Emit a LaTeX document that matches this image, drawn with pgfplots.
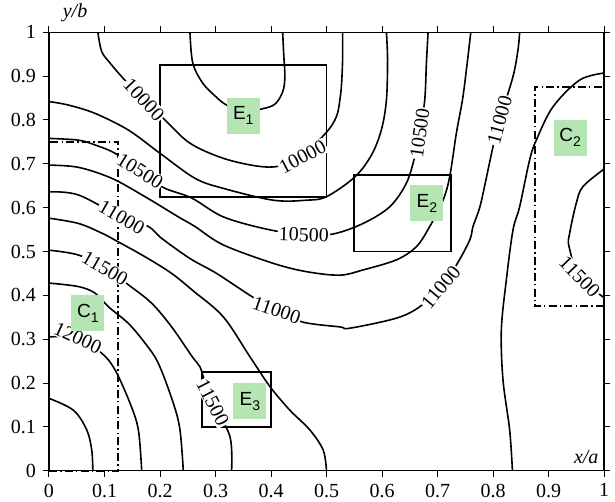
\documentclass[border=0pt]{standalone}
\usepackage{fontspec}
\setmainfont{Liberation Serif}
\newfontfamily\arialfont{Liberation Sans}
\usepackage{pgfplots}
\pgfplotsset{compat=1.18}
\definecolor{lblgreen}{RGB}{180,229,178}
\begin{document}
\begin{tikzpicture}[font=\fontsize{10}{12}\selectfont,
  clab/.style={fill=white, inner sep=0.5pt, font=\fontsize{10}{12}\selectfont},
  glab/.style={fill=lblgreen, inner sep=0pt, minimum width=16.5pt, minimum height=18pt, font=\arialfont\fontsize{9.5}{11}\selectfont}]
\useasboundingbox (-24.5pt,-15.65pt) rectangle (283pt,235.35pt);
\begin{axis}[
  at={(0,0)}, anchor=origin,
  width=277.5pt, height=219.2pt, scale only axis,
  xmin=0, xmax=1, ymin=0, ymax=1,
  xtick={0,0.1,0.2,0.3,0.4,0.5,0.6,0.7,0.8,0.9,1},
  ytick={0,0.1,0.2,0.3,0.4,0.5,0.6,0.7,0.8,0.9,1},
  tick align=outside, major tick length=3pt,
  xtick pos=both, ytick pos=both, xticklabel pos=lower, yticklabel pos=left,
  tick style={line width=0.5pt, black},
  axis line style={line width=0.6pt},
  /pgf/number format/assume math mode=true,
  clip=false, axis on top,
  every axis plot/.append style={line width=0.8pt, black},
]
% 9500
\addplot[smooth, tension=0.55] coordinates {(0.254,1.0)(0.259,0.930)(0.277,0.884)(0.299,0.855)(0.320,0.834)(0.353,0.820)(0.383,0.825)(0.407,0.836)(0.421,0.864)(0.425,0.898)(0.423,0.948)(0.421,1.0)};
% 10000
\addplot[smooth, tension=0.55] coordinates {(0.088,1.0)(0.095,0.956)(0.110,0.930)(0.128,0.903)(0.146,0.879)(0.209,0.800)(0.254,0.747)(0.313,0.713)(0.374,0.695)(0.416,0.695)(0.457,0.720)(0.500,0.772)(0.518,0.808)(0.524,0.845)(0.527,0.880)(0.529,0.937)(0.529,1.0)};
% 10250
\addplot[smooth, tension=0.55] coordinates {(0,0.842)(0.035,0.834)(0.083,0.815)(0.143,0.777)(0.200,0.724)(0.263,0.667)(0.314,0.644)(0.404,0.617)(0.464,0.617)(0.500,0.625)(0.551,0.670)(0.581,0.720)(0.599,0.778)(0.608,0.846)(0.610,0.937)(0.608,1.0)};
% 10500
\addplot[smooth, tension=0.55] coordinates {(0,0.758)(0.053,0.754)(0.083,0.743)(0.119,0.724)(0.164,0.684)(0.206,0.646)(0.257,0.622)(0.314,0.579)(0.392,0.551)(0.459,0.538)(0.512,0.540)(0.566,0.564)(0.614,0.602)(0.644,0.656)(0.659,0.716)(0.668,0.770)(0.677,0.846)(0.680,0.929)(0.683,1.0)};
% 10750
\addplot[smooth, tension=0.55] coordinates {(0,0.697)(0.053,0.692)(0.113,0.667)(0.173,0.625)(0.233,0.579)(0.263,0.557)(0.314,0.515)(0.404,0.473)(0.464,0.454)(0.524,0.446)(0.566,0.458)(0.626,0.481)(0.662,0.511)(0.686,0.557)(0.710,0.617)(0.722,0.671)(0.734,0.770)(0.745,0.846)(0.752,0.914)(0.760,1.0)};
% 11000
\addplot[smooth, tension=0.55] coordinates {(0,0.636)(0.053,0.629)(0.131,0.578)(0.179,0.557)(0.203,0.530)(0.254,0.484)(0.302,0.450)(0.367,0.396)(0.410,0.366)(0.457,0.339)(0.524,0.328)(0.542,0.325)(0.626,0.348)(0.668,0.374)(0.706,0.419)(0.734,0.469)(0.758,0.526)(0.764,0.557)(0.776,0.600)(0.785,0.650)(0.800,0.739)(0.812,0.800)(0.836,0.899)(0.845,0.960)(0.848,1.0)};
% 11250 left
\addplot[smooth, tension=0.55] coordinates {(0,0.576)(0.053,0.564)(0.095,0.542)(0.119,0.526)(0.173,0.488)(0.221,0.450)(0.260,0.410)(0.314,0.351)(0.362,0.260)(0.398,0.192)(0.434,0.138)(0.470,0.093)(0.494,0.047)(0.500,0.0)};
% 11500 left
\addplot[smooth, tension=0.55] coordinates {(0,0.503)(0.053,0.492)(0.101,0.462)(0.143,0.424)(0.185,0.382)(0.221,0.328)(0.257,0.262)(0.272,0.237)(0.278,0.214)(0.295,0.155)(0.326,0.078)(0.329,0.0)};
% 11750
\addplot[smooth, tension=0.55] coordinates {(0,0.428)(0.053,0.420)(0.083,0.405)(0.107,0.374)(0.143,0.336)(0.173,0.291)(0.197,0.245)(0.224,0.154)(0.236,0.093)(0.242,0.0)};
% 12000
\addplot[smooth, tension=0.55] coordinates {(0,0.305)(0.052,0.303)(0.095,0.268)(0.119,0.230)(0.146,0.154)(0.161,0.093)(0.167,0.0)};
% 12250
\addplot[smooth, tension=0.55] coordinates {(0,0.165)(0.044,0.138)(0.068,0.093)(0.077,0.047)(0.079,0.0)};
% 11250 right
\addplot[smooth, tension=0.55] coordinates {(0.835,0.0)(0.830,0.093)(0.818,0.207)(0.815,0.321)(0.824,0.435)(0.836,0.549)(0.848,0.602)(0.866,0.709)(0.878,0.754)(0.908,0.830)(0.956,0.891)(1.0,0.907)};
% 11500 right
\addplot[smooth, tension=0.55] coordinates {(1.0,0.688)(0.962,0.648)(0.950,0.610)(0.938,0.541)(0.937,0.511)(0.956,0.442)(1.0,0.395)};
% boxes
\addplot[line width=0.9pt, line join=miter] coordinates {(0.2,0.625)(0.5,0.625)(0.5,0.925)(0.2,0.925)(0.2,0.625)(0.5,0.625)};
\addplot[line width=0.9pt, line join=miter] coordinates {(0.55,0.5)(0.725,0.5)(0.725,0.675)(0.55,0.675)(0.55,0.5)(0.725,0.5)};
\addplot[line width=0.9pt, line join=miter] coordinates {(0.275,0.1)(0.4,0.1)(0.4,0.225)(0.275,0.225)(0.275,0.1)(0.4,0.1)};
\addplot[line width=0.9pt, dash pattern=on 4pt off 1.6pt on 0.7pt off 1.6pt] coordinates {(0,0)(0.125,0)(0.125,0.75)(0,0.75)};
\addplot[line width=0.9pt, dash pattern=on 4pt off 1.6pt on 0.7pt off 1.6pt] coordinates {(1,0.375)(0.875,0.375)(0.875,0.875)(1,0.875)};
% contour labels
\node[clab, rotate=-47] at (axis cs:0.171,0.846) {10000};
\node[clab, rotate=28] at (axis cs:0.457,0.716) {10000};
\node[clab, rotate=-32] at (axis cs:0.164,0.684) {10500};
\node[clab, rotate=-2] at (axis cs:0.459,0.538) {10500};
\node[clab, rotate=82] at (axis cs:0.668,0.770) {10500};
\node[clab, rotate=-30] at (axis cs:0.131,0.578) {11000};
\node[clab, rotate=-19] at (axis cs:0.410,0.366) {11000};
\node[clab, rotate=50] at (axis cs:0.706,0.419) {11000};
\node[clab, rotate=75] at (axis cs:0.812,0.800) {11000};
\node[clab, rotate=-30] at (axis cs:0.101,0.462) {11500};
\node[clab, rotate=-63] at (axis cs:0.295,0.155) {11500};
\node[clab, rotate=-46] at (axis cs:0.956,0.442) {11500};
\node[clab, rotate=-25] at (axis cs:0.052,0.303) {12000};
% region labels
\node[glab] at (axis cs:0.350,0.810) {E\raisebox{-0.45ex}{\fontsize{7}{8}\selectfont 1}};
\node[glab] at (axis cs:0.681,0.610) {E\raisebox{-0.45ex}{\fontsize{7}{8}\selectfont 2}};
\node[glab] at (axis cs:0.362,0.158) {E\raisebox{-0.45ex}{\fontsize{7}{8}\selectfont 3}};
\node[glab] at (axis cs:0.070,0.359) {C\raisebox{-0.45ex}{\fontsize{7}{8}\selectfont 1}};
\node[glab] at (axis cs:0.939,0.760) {C\raisebox{-0.45ex}{\fontsize{7}{8}\selectfont 2}};
% axis names
\node at (axis cs:0.047,1.044) {\itshape y/b};
\node at (axis cs:0.968,0.031) {\itshape x/a};
\end{axis}
\end{tikzpicture}
\end{document}
